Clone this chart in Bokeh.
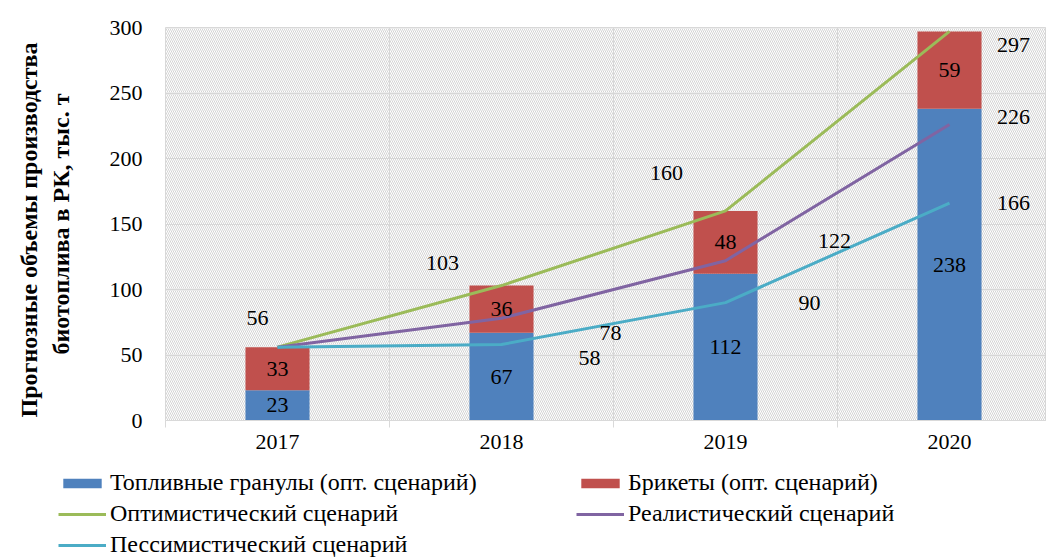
from bokeh.plotting import figure
from bokeh.models import (Range1d, FixedTicker, BoxAnnotation, Legend, LegendItem,
                          ColumnDataSource)
from bokeh.embed import file_html
from bokeh.resources import INLINE
from bokeh.core.properties import value

# ---- data ----
years = ["2017", "2018", "2019", "2020"]
pellets = [23, 67, 112, 238]          # Топливные гранулы (опт. сценарий)
briquettes = [33, 36, 48, 59]         # Брикеты (опт. сценарий)
optimistic = [56, 103, 160, 297]      # Оптимистический сценарий
realistic = [56, 78, 122, 226]        # Реалистический сценарий
pessimistic = [56, 58, 90, 166]       # Пессимистический сценарий
y_ticks = [0, 50, 100, 150, 200, 250, 300]
series_names = ["Топливные гранулы (опт. сценарий)", "Брикеты (опт. сценарий)",
                "Оптимистический сценарий", "Реалистический сценарий",
                "Пессимистический сценарий"]

# ---- styles / positions ----
FONT = "Liberation Serif"
FS = "22px"
BLUE, RED = "#4F81BD", "#C0504D"
GREEN, PURPLE, CYAN = "#9BBB59", "#8064A2", "#4BACC6"
GRID = "#d9d9d9"
# label pixel offsets (dx, dy) per point; None = no label
opt_off = [(-20, -29), (-59, -23), (-59, -38), (64, 14)]
real_off = [None, (109, 15), (109, -20), (64, -7)]
pess_off = [None, (88, 13), (84, 0), (64, 0)]

xc = [i + 0.5 for i in range(len(years))]
X_END = 3.933
MAIN_H = 460
LEG_H = 98

p = figure(width=1046, height=MAIN_H, output_backend="svg", toolbar_location=None,
           title=None, x_range=Range1d(0, X_END), y_range=Range1d(0, 300),
           min_border_left=165, min_border_right=0, min_border_top=27,
           min_border_bottom=MAIN_H - 420)
p.background_fill_color = "white"
p.border_fill_color = "white"
p.outline_line_color = GRID

# hatched plot area
p.add_layout(BoxAnnotation(fill_alpha=0, line_alpha=0, hatch_pattern="\\",
                           hatch_color="#d4d4d4", hatch_scale=4, hatch_weight=1,
                           level="underlay"))

# stacked bars
src = ColumnDataSource(dict(x=xc, pellets=pellets, briquettes=briquettes))
p.vbar_stack(["pellets", "briquettes"], x="x", width=0.286, source=src,
             color=[BLUE, RED], line_color=None)

# lines
p.line(xc, optimistic, line_color=GREEN, line_width=3)
p.line(xc, realistic, line_color=PURPLE, line_width=3)
p.line(xc, pessimistic, line_color=CYAN, line_width=3)

# bar segment labels
seg_x, seg_y, seg_t = [], [], []
for i in range(len(years)):
    seg_x += [xc[i], xc[i]]
    seg_y += [pellets[i] / 2, pellets[i] + briquettes[i] / 2]
    seg_t += [str(pellets[i]), str(briquettes[i])]
p.text(x=seg_x, y=seg_y, text=seg_t, text_font=value(FONT), text_font_size=FS,
       text_color="black", text_align="center", text_baseline="middle")

# line labels
lx, ly, lt, dx, dy = [], [], [], [], []
for series, offs in ((optimistic, opt_off), (realistic, real_off), (pessimistic, pess_off)):
    for i, v in enumerate(series):
        if offs[i] is None:
            continue
        lx.append(xc[i]); ly.append(v); lt.append(str(v))
        dx.append(offs[i][0]); dy.append(offs[i][1])
p.text(x=lx, y=ly, text=lt, x_offset=dx, y_offset=dy, text_font=value(FONT),
       text_font_size=FS, text_color="black", text_align="center",
       text_baseline="middle")

# axes
p.xaxis.ticker = FixedTicker(ticks=xc, minor_ticks=[0, 1, 2, 3, 4])
p.xaxis.major_label_overrides = {xc[i]: years[i] for i in range(len(years))}
p.xaxis.axis_line_color = GRID
p.xaxis.major_tick_line_color = None
p.xaxis.minor_tick_line_color = GRID
p.xaxis.minor_tick_in = 0
p.xaxis.minor_tick_out = 7
p.xaxis.major_label_standoff = 7
p.xaxis.major_label_text_font = FONT
p.xaxis.major_label_text_font_size = FS
p.xaxis.major_label_text_color = "black"

p.yaxis.ticker = FixedTicker(ticks=y_ticks)
p.yaxis.axis_line_color = None
p.yaxis.major_tick_line_color = None
p.yaxis.minor_tick_line_color = None
p.yaxis.major_label_standoff = 17
p.yaxis.major_label_text_font = FONT
p.yaxis.major_label_text_font_size = FS
p.yaxis.major_label_text_color = "black"
p.yaxis.axis_label = "Прогнозные  объемы  производства\nбиотоплива в РК, тыс. т"
p.yaxis.axis_label_text_font = FONT
p.yaxis.axis_label_text_font_size = "24px"
p.yaxis.axis_label_text_font_style = "bold"
p.yaxis.axis_label_text_color = "black"
p.yaxis.axis_label_standoff = 33

p.xgrid.grid_line_color = None
p.xgrid.minor_grid_line_color = GRID
p.ygrid.grid_line_color = GRID

# ---- legend strip (separate figure below the chart) ----
# key renderers: zero-width bars and lines lying above this strip's y-range (not drawn)
q = figure(width=1046, height=LEG_H, output_backend="svg", toolbar_location=None,
           title=None, x_axis_location=None, y_axis_location=None,
           x_range=Range1d(0, X_END), y_range=Range1d(-10, -9),
           min_border_left=0, min_border_right=0, min_border_top=0,
           min_border_bottom=0)
q.outline_line_color = None
q.grid.visible = False
q.background_fill_color = "white"
q.border_fill_color = "white"
kb = q.vbar(x=xc, top=pellets, width=0, color=BLUE, line_color=None)
kr = q.vbar(x=xc, top=briquettes, width=0, color=RED, line_color=None)
kg = q.line(x=xc, y=optimistic, line_color=GREEN, line_width=3)
kp = q.line(x=xc, y=realistic, line_color=PURPLE, line_width=3)
kc = q.line(x=xc, y=pessimistic, line_color=CYAN, line_width=3)
legend = Legend(items=[LegendItem(label=n, renderers=[r]) for n, r in
                       zip(series_names, [kb, kr, kg, kp, kc])],
                orientation="horizontal", ncols=2, location=(58, 0),
                glyph_width=48, glyph_height=12, label_standoff=4, label_width=462,
                label_height=20, spacing=4, padding=0, margin=0,
                background_fill_alpha=0, border_line_alpha=0,
                label_text_font=FONT, label_text_font_size="24px",
                label_text_color="black")
q.add_layout(legend)

open("out.html", "w").write(file_html([p, q], INLINE))
